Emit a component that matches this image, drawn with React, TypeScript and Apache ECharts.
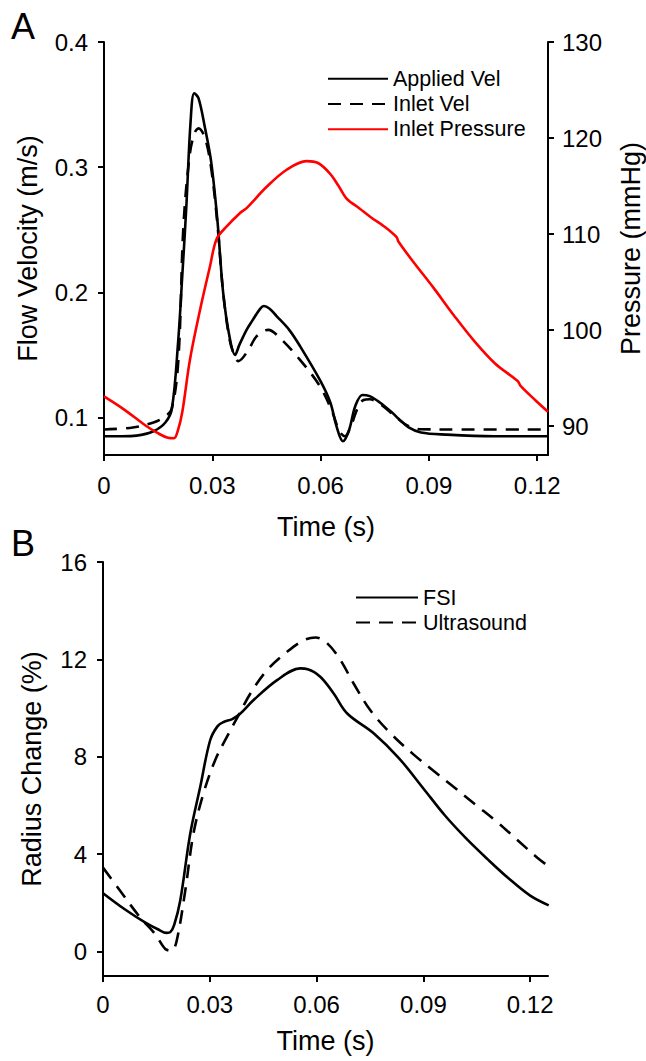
import React, { useEffect, useRef } from "react";
import * as echarts from "echarts";

// ---------- Panel A data ----------
const appliedT = [0, 0.005, 0.009, 0.0137, 0.017, 0.0188, 0.0205, 0.0217, 0.0228, 0.024, 0.025, 0.0262, 0.028, 0.0297, 0.0314, 0.033, 0.0348, 0.0363, 0.0375, 0.0395, 0.041, 0.0433, 0.0443, 0.0458, 0.0478, 0.0513, 0.0543, 0.0598, 0.0627, 0.0644, 0.0662, 0.0679, 0.0696, 0.0716, 0.0736, 0.0764, 0.0798, 0.0816, 0.0844, 0.0878, 0.0947, 0.108, 0.123];
const appliedV = [0.085, 0.085, 0.0855, 0.089, 0.096, 0.107, 0.159, 0.214, 0.268, 0.337, 0.359, 0.355, 0.331, 0.304, 0.258, 0.2, 0.164, 0.15, 0.158, 0.17, 0.177, 0.187, 0.189, 0.187, 0.181, 0.17, 0.157, 0.13, 0.112, 0.093, 0.081, 0.09, 0.109, 0.118, 0.117, 0.112, 0.104, 0.099, 0.092, 0.088, 0.0863, 0.085, 0.085];

const inletT = [0, 0.008, 0.0137, 0.0164, 0.0187, 0.0206, 0.022, 0.0238, 0.0252, 0.0262, 0.028, 0.0297, 0.0314, 0.033, 0.0348, 0.0362, 0.0372, 0.04, 0.0423, 0.0455, 0.0487, 0.0543, 0.0598, 0.0633, 0.0652, 0.0667, 0.0684, 0.0702, 0.0719, 0.0736, 0.0764, 0.081, 0.0844, 0.0878, 0.095, 0.123];
const inletV = [0.0904, 0.092, 0.096, 0.0998, 0.1064, 0.146, 0.2526, 0.311, 0.328, 0.331, 0.323, 0.299, 0.255, 0.2, 0.162, 0.149, 0.145, 0.154, 0.165, 0.17, 0.1636, 0.146, 0.125, 0.104, 0.089, 0.085, 0.093, 0.107, 0.114, 0.1145, 0.111, 0.1, 0.093, 0.0906, 0.0904, 0.0904];

const pressT = [0, 0.0057, 0.0114, 0.0148, 0.0177, 0.0194, 0.0205, 0.0217, 0.0238, 0.0266, 0.0294, 0.0312, 0.034, 0.0377, 0.0395, 0.045, 0.0506, 0.0561, 0.0593, 0.0626, 0.065, 0.0672, 0.0707, 0.0741, 0.0776, 0.081, 0.0816, 0.0855, 0.0913, 0.097, 0.1027, 0.1084, 0.1146, 0.1154, 0.1198, 0.123];
const pressP = [93.1, 91.7, 90.1, 89.3, 88.8, 88.75, 89.6, 91.5, 96.9, 102.1, 106.7, 109.5, 110.8, 112.2, 112.7, 114.9, 116.7, 117.6, 117.4, 116.3, 115.0, 113.7, 112.7, 111.7, 110.8, 109.7, 109.2, 107.2, 104.4, 101.5, 98.8, 96.5, 94.7, 94.2, 92.6, 91.5];

// ---------- Panel B data ----------
const fsiT = [0, 0.0061, 0.0119, 0.0154, 0.0179, 0.0189, 0.02, 0.0217, 0.0245, 0.0273, 0.0301, 0.0322, 0.0339, 0.0363, 0.0386, 0.0423, 0.0489, 0.0554, 0.0575, 0.0611, 0.0648, 0.0686, 0.0761, 0.0831, 0.09, 0.096, 0.102, 0.108, 0.114, 0.12, 0.1252];
const fsiR = [2.4, 1.74, 1.19, 0.92, 0.77, 0.8, 1.1, 2.1, 4.84, 6.76, 8.68, 9.26, 9.43, 9.55, 9.78, 10.33, 11.15, 11.63, 11.6, 11.28, 10.6, 9.78, 8.96, 7.95, 6.7, 5.6, 4.65, 3.8, 3.0, 2.3, 1.9];

const usT = [0, 0.0048, 0.0104, 0.0146, 0.0175, 0.0193, 0.0207, 0.0231, 0.0254, 0.0282, 0.0315, 0.0348, 0.0381, 0.0414, 0.0461, 0.0517, 0.0564, 0.0597, 0.063, 0.0667, 0.0704, 0.0751, 0.0808, 0.0872, 0.093, 0.0988, 0.1046, 0.1104, 0.1162, 0.122, 0.1252];
const usR = [3.45, 2.5, 1.41, 0.73, 0.11, 0.04, 0.45, 2.5, 4.84, 6.49, 7.86, 8.82, 9.71, 10.6, 11.56, 12.31, 12.79, 12.9, 12.66, 11.97, 11.01, 9.91, 8.96, 8.1, 7.41, 6.73, 6.04, 5.36, 4.61, 3.86, 3.5];

// ---------- Tick labels ----------
const timeTicks = [0, 0.03, 0.06, 0.09, 0.12];
const velTicks = [0.1, 0.2, 0.3, 0.4];
const pressTicks = [90, 100, 110, 120, 130];
const radiusTicks = [0, 4, 8, 12, 16];

const FONT = "'Liberation Sans', Arial, Helvetica, sans-serif";

const zip = (t: number[], v: number[]) => t.map((x, i) => [x, v[i]]);

function axisCommon(ticks: number[], margin: number) {
  return {
    axisLine: { show: true, onZero: false, lineStyle: { color: "#000", width: 2 } },
    axisTick: { show: true, length: 6, customValues: ticks, lineStyle: { color: "#000", width: 2 } },
    axisLabel: { customValues: ticks, color: "#000", fontSize: 24, fontFamily: FONT, margin },
    splitLine: { show: false },
    nameTextStyle: { color: "#000", fontSize: 27, fontFamily: FONT },
  };
}

const hiddenSymbol = { color: "rgba(0,0,0,0)", borderWidth: 0, opacity: 0 };

function lineSeries(name: string, x: number, y: number, data: number[][], color: string, dash?: number[]) {
  return {
    name, type: "line", xAxisIndex: x, yAxisIndex: y, data,
    symbol: "none", smooth: 0.35,
    lineStyle: { color, width: 2.6, type: dash ?? "solid" },
    itemStyle: { color },
  };
}

export default function App() {
  const ref = useRef<HTMLDivElement>(null);
  useEffect(() => {
    if (!ref.current) return;
    const chart = echarts.init(ref.current, null, { renderer: "svg" });
    const option: any = {
      animation: false,
      backgroundColor: "#fff",
      grid: [
        { left: 104, right: 98, top: 42, height: 413, containLabel: false, outerBoundsMode: "none" },
        { left: 103, right: 98, top: 562, height: 414, containLabel: false, outerBoundsMode: "none" },
      ],
      xAxis: [
        {
          type: "value", gridIndex: 0, min: 0, max: 0.123,
          name: "Time (s)", nameLocation: "middle", nameGap: 58,
          ...axisCommon(timeTicks, 18),
        },
        {
          type: "value", gridIndex: 1, min: 0, max: 0.125,
          name: "Time (s)", nameLocation: "middle", nameGap: 51,
          ...axisCommon(timeTicks, 16),
        },
      ],
      yAxis: [
        {
          type: "value", gridIndex: 0, min: 0.07, max: 0.4, position: "left",
          name: "Flow Velocity (m/s)", nameLocation: "middle", nameGap: 63, nameRotate: 90,
          ...axisCommon(velTicks, 16),
        },
        {
          type: "value", gridIndex: 0, min: 87, max: 130, position: "right",
          name: "Pressure (mmHg)", nameLocation: "middle", nameGap: 69, nameRotate: 90,
          ...axisCommon(pressTicks, 14),
        },
        {
          type: "value", gridIndex: 1, min: -1, max: 16, position: "left",
          name: "Radius Change (%)", nameLocation: "middle", nameGap: 58, nameRotate: 90,
          ...axisCommon(radiusTicks, 16),
        },
      ],
      legend: [
        {
          data: ["Applied Vel", "Inlet Vel", "Inlet Pressure"],
          orient: "vertical", left: 322, top: 61, itemWidth: 60, itemHeight: 14, itemGap: 0,
          itemStyle: hiddenSymbol,
          textStyle: { color: "#000", fontSize: 21.5, fontFamily: FONT, lineHeight: 25.3 },
        },
        {
          data: ["FSI", "Ultrasound"],
          orient: "vertical", left: 350, top: 580, itemWidth: 62, itemHeight: 14, itemGap: 0,
          itemStyle: hiddenSymbol,
          textStyle: { color: "#000", fontSize: 21.5, fontFamily: FONT, lineHeight: 25 },
        },
      ],
      graphic: [
        { type: "text", left: 11, top: 8, style: { text: "A", fontSize: 36, fontFamily: FONT, fill: "#000" } },
        { type: "text", left: 11, top: 525, style: { text: "B", fontSize: 36, fontFamily: FONT, fill: "#000" } },
      ],
      series: [
        lineSeries("Applied Vel", 0, 0, zip(appliedT, appliedV), "#000"),
        lineSeries("Inlet Vel", 0, 0, zip(inletT, inletV), "#000", [13, 9]),
        lineSeries("Inlet Pressure", 0, 1, zip(pressT, pressP), "#ff0000"),
        lineSeries("FSI", 1, 2, zip(fsiT, fsiR), "#000"),
        lineSeries("Ultrasound", 1, 2, zip(usT, usR), "#000", [14, 9]),
      ],
    };
    chart.setOption(option);
    return () => chart.dispose();
  }, []);
  return (
    <div
      ref={ref}
      style={{ position: "fixed", left: 0, top: 0, width: 646, height: 1061, background: "#fff" }}
    />
  );
}
